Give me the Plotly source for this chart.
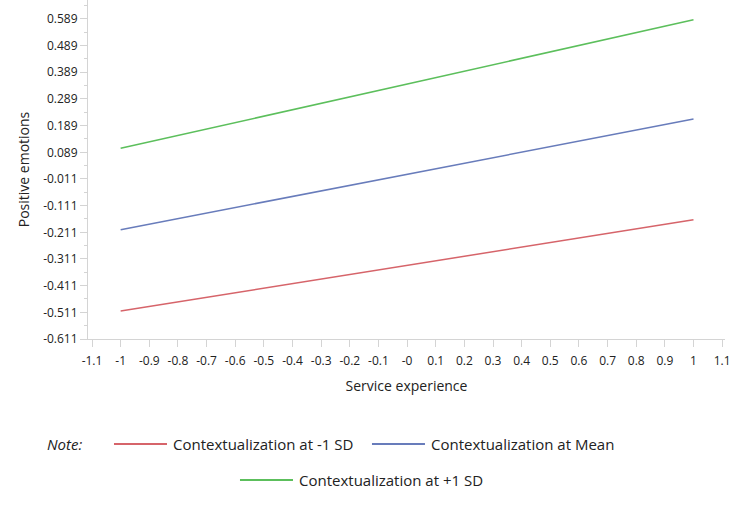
"""Simple slopes plot: positive emotions vs service experience."""

import plotly.graph_objects as go

# Data
service_experience = [-1, 1]
low_ctx = [-0.506, -0.164]    # Contextualization at -1 SD
mean_ctx = [-0.201, 0.214]    # Contextualization at Mean
high_ctx = [0.104, 0.586]     # Contextualization at +1 SD

series_names = [
    "Contextualization at -1 SD",
    "Contextualization at Mean",
    "Contextualization at +1 SD",
]
series_colors = ["#d6646a", "#687cbb", "#5cbf5c"]

x_tickvals = [round(-1.1 + 0.1 * i, 1) for i in range(23)]
x_ticktext = [("-0" if abs(v) < 1e-9 else f"{v:g}") for v in x_tickvals]
y_tickvals = [round(-0.611 + 0.1 * i, 3) for i in range(13)]
y_ticktext = [f"{v:.3f}" for v in y_tickvals]

FONT = "Open Sans"
TEXT = "#222222"
AXIS = "#d4d4d4"

fig = go.Figure()

for name, ys, color in zip(series_names, [low_ctx, mean_ctx, high_ctx], series_colors):
    fig.add_trace(go.Scatter(
        x=service_experience,
        y=ys,
        mode="lines",
        name=name,
        line=dict(color=color, width=1.5),
        showlegend=False,
    ))

axis_common = dict(
    showgrid=False,
    zeroline=False,
    showline=True,
    linecolor=AXIS,
    linewidth=1,
    ticks="outside",
    tickcolor=AXIS,
    ticklen=7,
    ticklabeloverflow="allow",
    tickfont=dict(family=FONT, size=12, color=TEXT),
)

fig.update_xaxes(
    range=[-1.114, 1.110],
    tickmode="array",
    tickvals=x_tickvals,
    ticktext=x_ticktext,
    ticklabelstandoff=4,
    title=dict(text="Service experience", font=dict(family=FONT, size=14, color=TEXT), standoff=12),
    **axis_common,
)
fig.update_yaxes(
    range=[-0.611, 0.66],
    tickmode="array",
    tickvals=y_tickvals,
    ticktext=y_ticktext,
    minor=dict(ticks="outside", ticklen=3, tickcolor=AXIS, tick0=-0.561, dtick=0.1),
    title=dict(text="Positive emotions", font=dict(family=FONT, size=14, color=TEXT), standoff=10),
    **axis_common,
)

# Legend drawn by hand: "Note:" label, then a line swatch and name per series
legend_font = dict(family=FONT, size=15, color=TEXT)
row1_y, row2_y = -0.310, -0.416
fig.add_annotation(
    x=-0.0675, y=row1_y, xref="paper", yref="paper",
    text="<i>Note:</i>", showarrow=False, xanchor="left", yanchor="middle",
    font=legend_font,
)
legend_slots = [(0.0408, row1_y), (0.4458, row1_y), (0.2386, row2_y)]
swatch_w = 0.0832
for name, color, (lx, ly) in zip(series_names, series_colors, legend_slots):
    fig.add_shape(
        type="line", xref="paper", yref="paper",
        x0=lx, x1=lx + swatch_w, y0=ly, y1=ly,
        line=dict(color=color, width=2),
    )
    fig.add_annotation(
        x=lx + swatch_w + 0.006, y=ly, xref="paper", yref="paper",
        text=name, showarrow=False, xanchor="left", yanchor="middle",
        font=legend_font,
    )

fig.update_layout(
    width=731,
    height=505,
    margin=dict(l=88, r=6, t=0, b=166),
    paper_bgcolor="white",
    plot_bgcolor="white",
    showlegend=False,
)

# page default margin would push the chart 8px right/down and clip the last tick label
fig.write_html(
    "out.html",
    config={"displayModeBar": False},
    post_script="document.body.style.margin = '0';",
)
